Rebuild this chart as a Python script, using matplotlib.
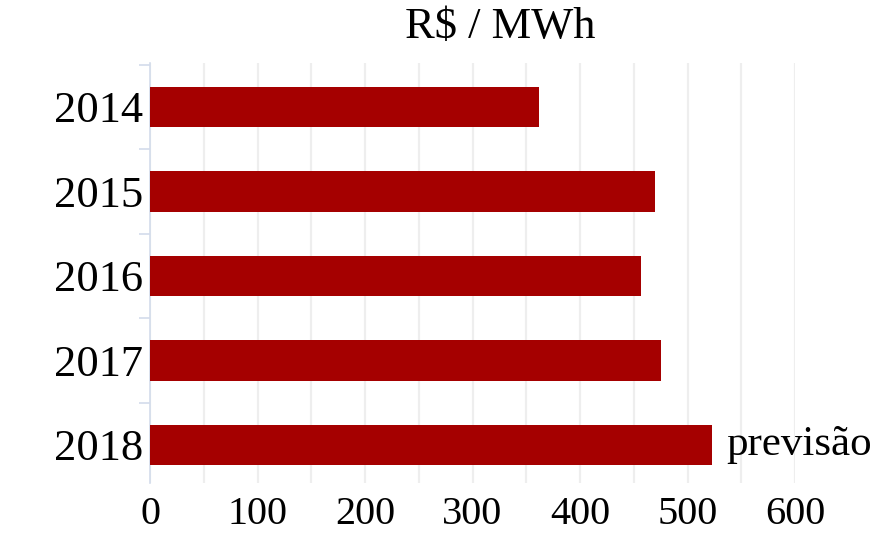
import matplotlib
matplotlib.use("Agg")
import matplotlib.pyplot as plt
from matplotlib.ticker import MultipleLocator, FixedLocator

# Energy price per year (R$/MWh); 2018 is a forecast
years = ["2014", "2015", "2016", "2017", "2018"]
prices = [362, 470, 457, 475, 523]
forecast_label = "previsão"
x_ticks = [0, 100, 200, 300, 400, 500, 600]
title = "R$ / MWh"

bar_color = "#A50000"
grid_color = "#EEEEEE"
axis_color = "#D3DCEB"

plt.rcParams["font.family"] = ["Liberation Serif", "DejaVu Serif"]

fig = plt.figure(figsize=(8.83, 5.41), dpi=100)
ax = fig.add_axes([150 / 883, 1 - 483 / 541, (795 - 150) / 883, (483 - 63) / 541])

ypos = list(range(len(years)))
ax.barh(ypos, prices, height=0.48, color=bar_color, zorder=3)

ax.set_xlim(0, 600)
ax.set_ylim(4.45, -0.52)

# Vertical grid every 50 units
ax.xaxis.set_major_locator(FixedLocator(x_ticks))
ax.xaxis.set_minor_locator(MultipleLocator(50))
ax.grid(axis="x", which="both", color=grid_color, linewidth=1.6, zorder=0)
ax.tick_params(axis="x", which="both", length=0, labelsize=29, pad=9)

# Category labels in the middle, tick marks on the category boundaries
ax.set_yticks(ypos)
ax.set_yticklabels(years)
ax.yaxis.set_minor_locator(FixedLocator([y - 0.5 for y in ypos]))
ax.tick_params(axis="y", which="major", length=0, labelsize=32, pad=5)
ax.tick_params(axis="y", which="minor", length=8, width=1.2, color=axis_color)

for side in ["top", "right", "bottom"]:
    ax.spines[side].set_visible(False)
ax.spines["left"].set_color(axis_color)
ax.spines["left"].set_linewidth(1.2)

# Forecast annotation next to the last bar
ax.annotate(forecast_label, xy=(prices[-1], ypos[-1]), xytext=(10, 0),
            textcoords="offset points", va="center", ha="left", fontsize=31,
            annotation_clip=False)

fig.text(500 / 883, 1 - 27 / 541, title, ha="center", va="center", fontsize=32)

fig.savefig("out.png", dpi=100, facecolor="white")
